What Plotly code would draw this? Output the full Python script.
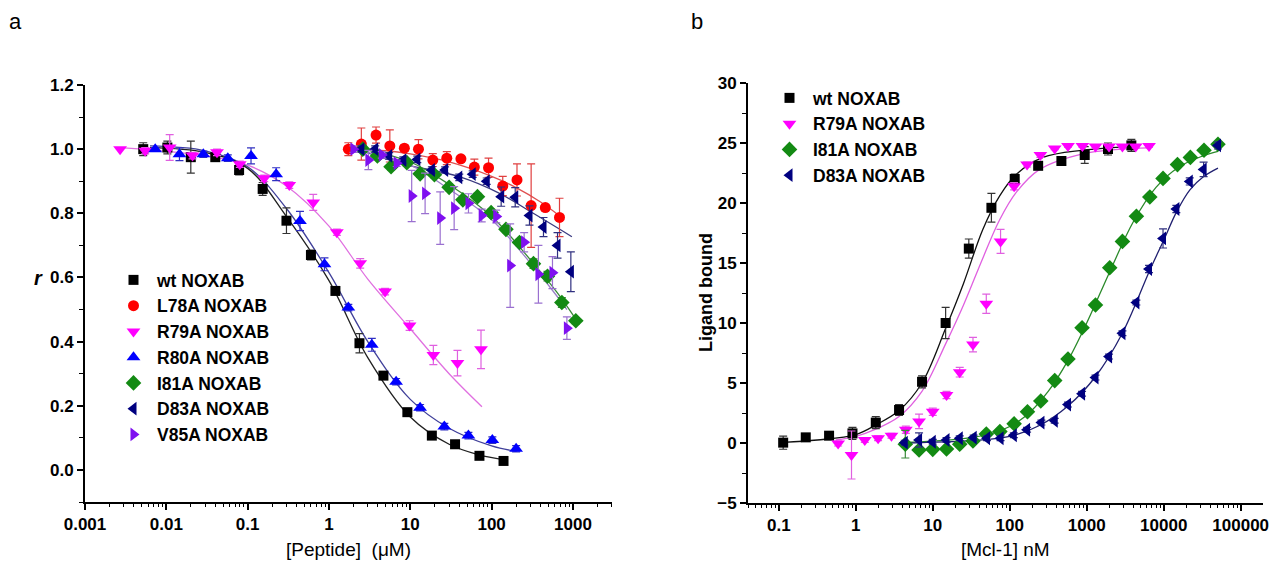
import plotly.graph_objects as go

# ---------------- Panel a data ----------------
wt_a_x = [0.0052, 0.0103, 0.02, 0.04, 0.0785, 0.153, 0.30, 0.60, 1.2, 2.37, 4.67, 9.2, 18.4, 35.5, 70.8, 140]
wt_a_y = [1.0, 1.005, 0.975, 0.975, 0.935, 0.876, 0.777, 0.67, 0.558, 0.395, 0.294, 0.18, 0.107, 0.08, 0.044, 0.028]
wt_a_e = [0.02, 0.02, 0.05, 0.01, 0.015, 0.02, 0.04, 0.015, 0.01, 0.03, 0.01, 0.01, 0.01, 0.01, 0.01, 0.01]

l78_x = [1.73, 2.5, 3.79, 5.6, 8.45, 12.6, 18.9, 28.1, 41.9, 61.3, 91.6, 137, 205, 306, 457, 683]
l78_y = [1.0, 1.016, 1.044, 1.01, 1.003, 1.0, 0.966, 0.972, 0.97, 0.944, 0.942, 0.885, 0.904, 0.824, 0.818, 0.787]
l78_e = [0.02, 0.05, 0.025, 0.05, 0.01, 0.03, 0.02, 0.02, 0.01, 0.025, 0.03, 0.03, 0.05, 0.13, 0.01, 0.06]

r79_a_x = [0.0027, 0.0055, 0.011, 0.021, 0.042, 0.08, 0.16, 0.325, 0.64, 1.25, 2.42, 4.9, 9.8, 19.2, 38, 74]
r79_a_y = [1.0, 0.995, 1.005, 0.98, 0.99, 0.953, 0.909, 0.888, 0.834, 0.741, 0.644, 0.556, 0.45, 0.358, 0.333, 0.376]
r79_a_e = [0.0, 0.01, 0.04, 0.01, 0.01, 0.01, 0.01, 0.01, 0.025, 0.01, 0.015, 0.01, 0.015, 0.03, 0.04, 0.06]

r80_x = [0.0073, 0.0145, 0.0285, 0.057, 0.11, 0.224, 0.44, 0.88, 1.73, 3.36, 6.69, 13.2, 26.2, 51.8, 102, 200]
r80_y = [1.0, 0.984, 0.984, 0.972, 0.979, 0.922, 0.776, 0.641, 0.506, 0.39, 0.275, 0.194, 0.135, 0.107, 0.093, 0.066]
r80_e = [0.005, 0.02, 0.01, 0.01, 0.025, 0.02, 0.03, 0.02, 0.01, 0.02, 0.01, 0.01, 0.01, 0.01, 0.01, 0.01]

i81_a_x = [2.6, 3.94, 5.8, 9.06, 13.2, 19.8, 30, 44.3, 67, 98.6, 150, 220, 327, 486, 730, 1084]
i81_a_y = [1.0, 0.979, 0.945, 0.958, 0.923, 0.92, 0.881, 0.842, 0.852, 0.802, 0.75, 0.709, 0.643, 0.604, 0.522, 0.465]
i81_a_e = [0.01, 0.01, 0.01, 0.01, 0.01, 0.01, 0.01, 0.01, 0.01, 0.01, 0.01, 0.01, 0.015, 0.015, 0.015, 0.01]

d83_a_x = [2.5, 3.7, 5.5, 8.2, 12.2, 18.4, 26.8, 40, 58.5, 87, 131, 195, 292, 434, 646, 942]
d83_a_y = [1.0, 1.0, 0.979, 0.966, 0.968, 0.935, 0.935, 0.912, 0.922, 0.90, 0.852, 0.85, 0.793, 0.757, 0.70, 0.618]
d83_a_e = [0.01, 0.01, 0.01, 0.01, 0.01, 0.01, 0.01, 0.01, 0.01, 0.01, 0.03, 0.03, 0.03, 0.03, 0.04, 0.062]

v85_x = [2.0, 3.05, 4.46, 6.8, 10.4, 15.2, 23.3, 34.6, 51.9, 75.5, 114, 169, 251, 376, 560, 842]
v85_y = [1.0, 0.966, 0.982, 0.956, 0.854, 0.862, 0.785, 0.816, 0.831, 0.793, 0.79, 0.637, 0.71, 0.61, 0.615, 0.442]
v85_e = [0.01, 0.03, 0.01, 0.01, 0.08, 0.063, 0.082, 0.067, 0.03, 0.02, 0.02, 0.13, 0.03, 0.09, 0.05, 0.035]

# fitted curves of panel a
fit_wt_a_x = [0.0063, 0.03, 0.1, 0.3, 1, 3, 10, 30, 70, 140]
fit_wt_a_y = [1.005, 0.99, 0.94, 0.79, 0.59, 0.35, 0.165, 0.08, 0.047, 0.032]
fit_r80_x = [0.0063, 0.03, 0.1, 0.3, 1, 3, 10, 30, 100, 200]
fit_r80_y = [1.01, 0.995, 0.945, 0.815, 0.615, 0.40, 0.22, 0.13, 0.075, 0.058]
fit_r79_a_x = [0.0027, 0.03, 0.1, 0.3, 1, 3, 10, 30, 76]
fit_r79_a_y = [1.005, 0.98, 0.95, 0.885, 0.76, 0.595, 0.44, 0.30, 0.197]
fit_l78_x = [1.73, 5, 10, 30, 100, 200, 400, 700]
fit_l78_y = [1.0, 0.995, 0.985, 0.96, 0.915, 0.88, 0.835, 0.79]
fit_d83_a_x = [2.5, 7.5, 40, 125, 325, 970]
fit_d83_a_y = [0.995, 0.956, 0.914, 0.862, 0.80, 0.727]
fit_i81_a_x = [2.6, 10, 30, 100, 300, 630, 1084]
fit_i81_a_y = [1.0, 0.96, 0.89, 0.79, 0.655, 0.555, 0.47]
fit_v85_x = [2.0, 10, 30, 100, 300, 600, 842]
fit_v85_y = [1.0, 0.95, 0.875, 0.78, 0.645, 0.55, 0.50]

# ---------------- Panel b data ----------------
wt_b_x = [0.114, 0.224, 0.45, 0.906, 1.82, 3.65, 7.26, 14.7, 29.4, 57.8, 116, 234, 469, 942, 1890, 3800]
wt_b_y = [0.03, 0.47, 0.61, 0.8, 1.7, 2.75, 5.1, 10.0, 16.2, 19.6, 22.0, 23.1, 23.5, 24.0, 24.5, 24.8]
wt_b_e = [0.55, 0.2, 0.2, 0.5, 0.5, 0.45, 0.5, 1.3, 0.8, 1.2, 0.4, 0.3, 0.2, 0.7, 0.5, 0.5]

r79_b_x = [0.59, 0.88, 1.31, 1.95, 2.91, 4.47, 6.64, 10.0, 15.1, 22.4, 33.3, 49.6, 76, 114, 168, 250, 384, 571, 879, 1300, 1950, 2910, 4330, 6450]
r79_b_y = [-0.05, -1.0, 0.25, 0.4, 0.6, 1.1, 1.8, 2.6, 4.0, 5.9, 8.2, 11.6, 16.8, 21.4, 23.2, 24.0, 24.55, 24.75, 24.75, 24.7, 24.7, 24.7, 24.7, 24.75]
r79_b_e = [0.2, 2.0, 0.2, 0.2, 0.2, 0.3, 0.6, 0.3, 0.3, 0.4, 0.6, 0.8, 1.0, 0.3, 0.2, 0.2, 0.1, 0.1, 0.1, 0.1, 0.1, 0.1, 0.1, 0.1]

i81_b_x = [4.4, 6.64, 10.0, 15.1, 22.4, 33.3, 49.6, 74.5, 114, 170, 253, 384, 571, 870, 1300, 1990, 2910, 4420, 6600, 9800, 15100, 22200, 33400, 50700]
i81_b_y = [-0.1, -0.58, -0.53, -0.5, -0.1, 0.17, 0.75, 0.95, 1.6, 2.6, 3.5, 5.2, 7.0, 9.6, 11.5, 14.6, 16.8, 18.9, 20.5, 22.05, 23.2, 23.8, 24.4, 24.9]
i81_b_e = [1.15, 0.2, 0.2, 0.2, 0.2, 0.2, 0.2, 0.2, 0.2, 0.2, 0.2, 0.2, 0.2, 0.2, 0.2, 0.2, 0.2, 0.2, 0.2, 0.2, 0.2, 0.2, 0.2, 0.2]

d83_b_x = [4.33, 6.64, 10.0, 15.1, 22.4, 34, 50.7, 76, 113, 168, 258, 384, 571, 870, 1300, 1950, 2910, 4420, 6450, 9800, 14600, 21800, 33000, 50700]
d83_b_y = [0.03, 0.25, 0.1, 0.25, 0.4, 0.45, 0.4, 0.4, 0.65, 1.1, 1.7, 1.85, 3.2, 4.1, 5.45, 7.2, 9.15, 11.7, 14.5, 17.05, 19.5, 21.8, 22.8, 24.8]
d83_b_e = [0.2, 0.6, 0.2, 0.2, 0.2, 0.2, 0.2, 0.2, 0.2, 0.2, 0.2, 0.2, 0.2, 0.2, 0.2, 0.2, 0.2, 0.2, 0.3, 0.8, 0.3, 0.3, 0.6, 0.3]

fit_wt_b_x = [0.114, 0.316, 1, 1.82, 3.65, 7.24, 14.8, 25.1, 44.7, 74, 122, 270, 890, 3800]
fit_wt_b_y = [0.05, 0.25, 0.7, 1.5, 2.7, 5.0, 9.6, 13.3, 17.8, 20.6, 22.4, 23.8, 24.4, 24.7]
fit_r79_b_x = [0.55, 1, 1.82, 3.65, 7.24, 14.8, 25.1, 44.7, 74, 122, 245, 890, 3800, 6450]
fit_r79_b_y = [0.25, 0.55, 1.15, 2.2, 4.3, 8.3, 11.5, 15.4, 18.6, 20.9, 22.8, 24.1, 24.55, 24.6]
fit_i81_b_x = [4.33, 10, 31.6, 74, 158, 316, 562, 1000, 2000, 4000, 7940, 15800, 31600, 50700]
fit_i81_b_y = [0.05, 0.15, 0.45, 1.0, 2.2, 4.3, 6.8, 10.0, 14.3, 18.4, 21.3, 23.0, 23.9, 24.3]
fit_d83_b_x = [4.33, 31.6, 100, 251, 575, 1290, 2880, 6600, 10000, 14800, 21900, 33100, 50700]
fit_d83_b_y = [0.0, 0.2, 0.55, 1.5, 3.1, 5.5, 9.1, 14.4, 16.9, 19.3, 21.1, 22.2, 22.9]

# tick labels
xa_tickvals = [0.001, 0.01, 0.1, 1, 10, 100, 1000]
xa_ticktext = ["0.001", "0.01", "0.1", "1", "10", "100", "1000"]
xb_tickvals = [0.1, 1, 10, 100, 1000, 10000, 100000]
xb_ticktext = ["0.1", "1", "10", "100", "1000", "10000", "100000"]

FONT = "Liberation Sans, Arial, sans-serif"
W, H = 1273, 572

fig = go.Figure()


def add_pts(x, y, e, name, sym, col, ecol, size, xa, ya, leg):
    fig.add_trace(go.Scatter(
        x=x, y=y, mode="markers", name=name, xaxis=xa, yaxis=ya, legend=leg,
        marker=dict(symbol=sym, color=col, size=size, line=dict(width=0)),
        error_y=dict(type="data", array=e, color=ecol, thickness=1.2, width=4)))


def add_fit(x, y, col, xa, ya):
    fig.add_trace(go.Scatter(
        x=x, y=y, mode="lines", showlegend=False, xaxis=xa, yaxis=ya, hoverinfo="skip",
        line=dict(color=col, width=1.3, shape="spline", smoothing=1.0)))


# panel a fits
add_fit(fit_l78_x, fit_l78_y, "#e05050", "x", "y")
add_fit(fit_d83_a_x, fit_d83_a_y, "#3a3a80", "x", "y")
add_fit(fit_v85_x, fit_v85_y, "#9a80c8", "x", "y")
add_fit(fit_i81_a_x, fit_i81_a_y, "#3a8a3a", "x", "y")
add_fit(fit_r79_a_x, fit_r79_a_y, "#e070e0", "x", "y")
add_fit(fit_r80_x, fit_r80_y, "#40409a", "x", "y")
add_fit(fit_wt_a_x, fit_wt_a_y, "#202020", "x", "y")

# panel a points
add_pts(wt_a_x, wt_a_y, wt_a_e, "wt NOXAB", "square", "#000000", "#333333", 10, "x", "y", "legend")
add_pts(l78_x, l78_y, l78_e, "L78A NOXAB", "circle", "#ff0000", "#e04040", 11, "x", "y", "legend")
add_pts(r79_a_x, r79_a_y, r79_a_e, "R79A NOXAB", "triangle-down", "#ff00ff", "#e060e0", 12, "x", "y", "legend")
add_pts(r80_x, r80_y, r80_e, "R80A NOXAB", "triangle-up", "#0000ff", "#3030c0", 12, "x", "y", "legend")
add_pts(i81_a_x, i81_a_y, i81_a_e, "I81A NOXAB", "diamond", "#138a13", "#3a8a3a", 12, "x", "y", "legend")
add_pts(d83_a_x, d83_a_y, d83_a_e, "D83A NOXAB", "triangle-left", "#000080", "#303080", 12, "x", "y", "legend")
add_pts(v85_x, v85_y, v85_e, "V85A NOXAB", "triangle-right", "#7f10f0", "#9a70d0", 12, "x", "y", "legend")

# panel b fits
add_fit(fit_wt_b_x, fit_wt_b_y, "#101010", "x2", "y2")
add_fit(fit_r79_b_x, fit_r79_b_y, "#e060e0", "x2", "y2")
add_fit(fit_i81_b_x, fit_i81_b_y, "#2a8a2a", "x2", "y2")
add_fit(fit_d83_b_x, fit_d83_b_y, "#202070", "x2", "y2")

# panel b points
add_pts(wt_b_x, wt_b_y, wt_b_e, "wt NOXAB", "square", "#000000", "#333333", 10, "x2", "y2", "legend2")
add_pts(r79_b_x, r79_b_y, r79_b_e, "R79A NOXAB", "triangle-down", "#ff00ff", "#e060e0", 12, "x2", "y2", "legend2")
add_pts(i81_b_x, i81_b_y, i81_b_e, "I81A NOXAB", "diamond", "#138a13", "#3a8a3a", 12, "x2", "y2", "legend2")
add_pts(d83_b_x, d83_b_y, d83_b_e, "D83A NOXAB", "triangle-left", "#000080", "#303080", 12, "x2", "y2", "legend2")

tickfont = dict(family=FONT, size=17, color="black", weight="bold")
axis_common = dict(showline=True, linewidth=2, linecolor="black", showgrid=False, zeroline=False,
                   ticks="outside", ticklen=6, tickwidth=1.5, tickcolor="black", tickfont=tickfont,
                   automargin=False)

legfont = dict(family=FONT, size=17.5, weight="bold", color="black")


def ann(text, x, y, size, angle=0):
    return dict(text=text, x=x / W, y=1 - y / H, xref="paper", yref="paper", showarrow=False,
                xanchor="center", yanchor="middle", textangle=angle,
                font=dict(family=FONT, size=size, color="black"))


fig.update_layout(
    width=W, height=H, paper_bgcolor="white", plot_bgcolor="white",
    margin=dict(l=0, r=0, t=0, b=0, autoexpand=False),
    font=dict(family=FONT, color="black"),
    xaxis=dict(axis_common, type="log", range=[-3, 3.48], domain=[85 / W, 612 / W], anchor="y",
               tickmode="array", tickvals=xa_tickvals, ticktext=xa_ticktext,
               minor=dict(ticks="outside", ticklen=3, tickwidth=1.2, tickcolor="black", dtick="D1")),
    yaxis=dict(axis_common, range=[-0.1, 1.2], domain=[1 - 502 / H, 1 - 85 / H], anchor="x",
               dtick=0.2, tick0=0, tickformat=".1f",
               minor=dict(ticks="outside", ticklen=4, tickwidth=1.2, tickcolor="black", dtick=0.1)),
    xaxis2=dict(axis_common, type="log", range=[-1.4, 5.29], domain=[748 / W, 1263 / W], anchor="y2",
                tickmode="array", tickvals=xb_tickvals, ticktext=xb_ticktext,
                minor=dict(ticks="outside", ticklen=3, tickwidth=1.2, tickcolor="black", dtick="D1")),
    yaxis2=dict(axis_common, range=[-5, 30], domain=[1 - 503 / H, 1 - 83 / H], anchor="x2",
                dtick=5, tick0=0,
                minor=dict(ticks="outside", ticklen=4, tickwidth=1.2, tickcolor="black", dtick=2.5)),
    legend=dict(x=110 / W, y=1 - 262 / H, xanchor="left", yanchor="top", bgcolor="rgba(0,0,0,0)",
                font=legfont, tracegroupgap=0, itemwidth=37),
    legend2=dict(x=766 / W, y=1 - 80 / H, xanchor="left", yanchor="top", bgcolor="rgba(0,0,0,0)",
                 font=legfont, tracegroupgap=0, itemwidth=37),
    annotations=[
        ann("a", 15, 22, 22),
        ann("b", 697, 22, 22),
        ann("[Peptide]  (μM)", 348, 549, 19),
        ann("[Mcl-1] nM", 1005, 549, 19),
        ann("<b><i>r</i></b>", 38, 278, 20),
        ann("<b>Ligand bound</b>", 706, 293, 18, -90),
    ],
)

fig.write_html("out.html", config={"displayModeBar": False},
               post_script="document.body.style.margin='0px';")
